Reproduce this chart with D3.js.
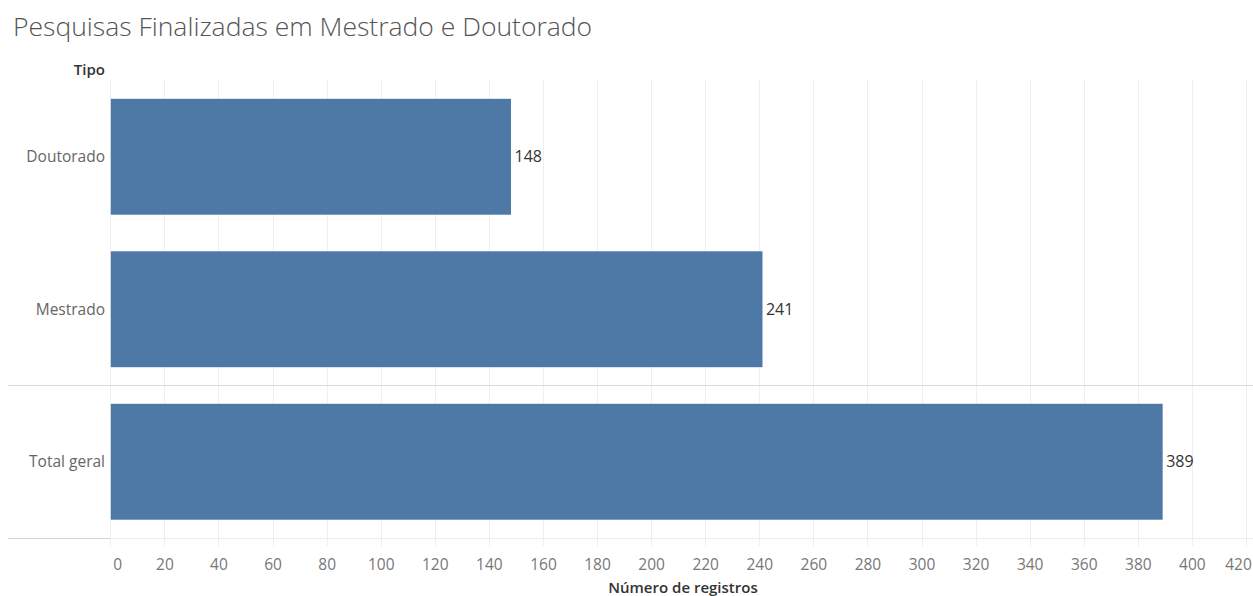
<!DOCTYPE html>
<html>
<head>
<meta charset="utf-8">
<script src="https://cdn.jsdelivr.net/npm/d3@7"></script>
<style>
  body { margin: 0; background: #fff; }
  svg text { font-family: "Open Sans", Lato, sans-serif; }
</style>
</head>
<body>
<div id="container"></div>
<script>
// data
var categories = ["Doutorado", "Mestrado", "Total geral"];
var values = [148, 241, 389];
var xTicks = [0, 20, 40, 60, 80, 100, 120, 140, 160, 180, 200, 220, 240, 260, 280, 300, 320, 340, 360, 380, 400, 420];

var width = 1253, height = 596;

var svg = d3.select("#container").append("svg")
    .attr("width", width)
    .attr("height", height);

// scales
var x = d3.scaleLinear()
    .domain([0, 420])
    .range([110.3, 1246]);

var y = d3.scaleBand()
    .domain(categories)
    .range([80.5, 538])
    .paddingInner(0.24)
    .paddingOuter(0.12);

// title
svg.append("text")
    .attr("x", 13)
    .attr("y", 36)
    .attr("font-size", 26.5)
    .attr("font-weight", 300)
    .attr("fill", "#555")
    .text("Pesquisas Finalizadas em Mestrado e Doutorado");

svg.append("text")
    .attr("x", 105)
    .attr("y", 75)
    .attr("text-anchor", "end")
    .attr("font-size", 15)
    .attr("font-weight", 600)
    .attr("fill", "#333")
    .text("Tipo");

// gridlines
svg.append("g")
    .selectAll("line")
    .data(xTicks)
    .enter()
    .append("line")
    .attr("x1", function(d) { return Math.round(x(d)) + 0.5; })
    .attr("x2", function(d) { return Math.round(x(d)) + 0.5; })
    .attr("y1", 80)
    .attr("y2", 546)
    .attr("stroke", "#efefef")
    .attr("stroke-width", 1);

// separator above total and bottom line
svg.append("line")
    .attr("x1", 8).attr("x2", width)
    .attr("y1", 385.5).attr("y2", 385.5)
    .attr("stroke", "#d9d9d9");

svg.append("line")
    .attr("x1", 8).attr("x2", 110)
    .attr("y1", 538.5).attr("y2", 538.5)
    .attr("stroke", "#d4d4d4");

svg.append("line")
    .attr("x1", 110).attr("x2", width)
    .attr("y1", 538.5).attr("y2", 538.5)
    .attr("stroke", "#ececec");

// bars
svg.append("g")
    .selectAll("rect")
    .data(values)
    .enter()
    .append("rect")
    .attr("x", x(0) + 0.5)
    .attr("y", function(d, i) { return y(categories[i]); })
    .attr("width", function(d) { return x(d) - x(0); })
    .attr("height", y.bandwidth())
    .attr("fill", "#4e79a7");

// value labels
svg.append("g")
    .selectAll("text")
    .data(values)
    .enter()
    .append("text")
    .attr("x", function(d) { return x(d) + 4; })
    .attr("y", function(d, i) { return y(categories[i]) + y.bandwidth() / 2; })
    .attr("dy", "0.35em")
    .attr("font-size", 16)
    .attr("fill", "#333")
    .text(function(d) { return d; });

// category labels
svg.append("g")
    .selectAll("text")
    .data(categories)
    .enter()
    .append("text")
    .attr("x", 105)
    .attr("y", function(d) { return y(d) + y.bandwidth() / 2; })
    .attr("dy", "0.35em")
    .attr("text-anchor", "end")
    .attr("font-size", 15.5)
    .attr("fill", "#666")
    .text(function(d) { return d; });

// x axis
var xAxis = d3.axisBottom(x)
    .tickValues(xTicks)
    .tickSize(0)
    .tickPadding(12);

var gx = svg.append("g")
    .attr("transform", "translate(0,547)")
    .call(xAxis);
gx.select(".domain").remove();
gx.selectAll("text")
    .attr("font-family", "'Open Sans', sans-serif")
    .attr("font-size", 15.5)
    .attr("fill", "#777")
    .attr("x", function(d) { return d === 0 ? 7 : (d === 420 ? -8 : 0); });

svg.append("text")
    .attr("x", 683)
    .attr("y", 593)
    .attr("text-anchor", "middle")
    .attr("font-size", 15)
    .attr("font-weight", 600)
    .attr("fill", "#333")
    .text("Número de registros");
</script>
</body>
</html>
